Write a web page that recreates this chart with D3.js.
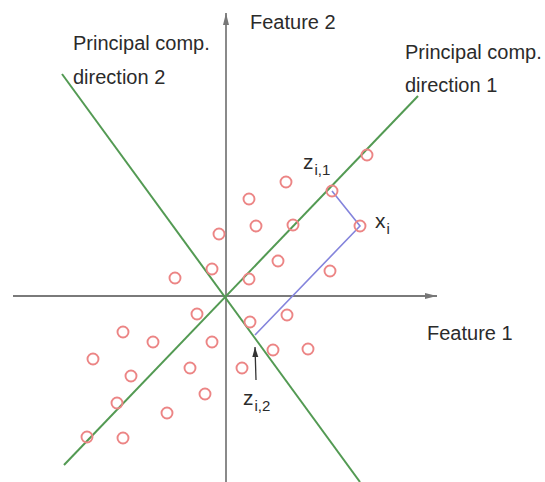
<!DOCTYPE html>
<html>
<head>
<meta charset="utf-8">
<script src="https://cdn.jsdelivr.net/npm/d3@7"></script>
<style>
  body { margin: 0; background: #fff; }
  svg { display: block; }
  text { font-family: "Liberation Sans", Arial, sans-serif; fill: #2b2b2b; }
</style>
</head>
<body>
<div id="chart"></div>
<script>
// samples, feature 1 / feature 2
const feat1 = [14.1, 6.0, 10.6, 2.3, 3.0, 6.7, 13.4, -0.7, 5.2, 10.4, -1.4, -5.1, 2.3, -2.9, 6.1,
               2.4, -10.3, -7.3, -1.4, 4.7, 8.2, -13.3, -3.6, 1.6, -9.5, -2.1, -10.9, -5.9, -13.9, -10.3];
const feat2 = [14.1, 11.4, 10.5, 9.7, 7.0, 7.1, 7.0, 6.2, 3.5, 2.5, 2.7, 1.8, 1.7, -1.8, -1.9,
               -2.6, -3.6, -4.6, -4.6, -5.4, -5.3, -6.3, -7.2, -7.2, -8.0, -9.8, -10.7, -11.7, -14.1, -14.2];

// extent of the two feature axes
const axisF1 = [-21.3, 21.1];
const axisF2 = [-18.6, 28.3];

// principal component directions (segment ends)
const pc1 = [[-16.2, -16.9], [19.2, 20.0]];
const pc2 = [[-16.4, 22.2], [13.4, -18.6]];

// sample x_i and its projections
const xi = [13.4, 7.0];
const zi1 = [10.6, 10.5];
const zi2 = [2.9, -3.9];
const zi2Arrow = [[3.0, -8.4], [2.9, -5.1]];

const width = 545, height = 482;

let x = d3.scaleLinear().domain([-10, 10]).range([126, 326]);
let y = d3.scaleLinear().domain([-10, 10]).range([396, 196]);

let svg = d3.select("#chart")
    .append("svg")
        .attr("width", width)
        .attr("height", height);

let defs = svg.append("defs");
defs.append("marker")
    .attr("id", "axhead")
    .attr("viewBox", "0 0 12 8")
    .attr("refX", 12).attr("refY", 4)
    .attr("markerUnits", "userSpaceOnUse")
    .attr("markerWidth", 12).attr("markerHeight", 8)
    .attr("orient", "auto")
  .append("path")
    .attr("d", "M0,1 L12,4 L0,7 Z")
    .attr("fill", "#777");
defs.append("marker")
    .attr("id", "smallhead")
    .attr("viewBox", "0 0 10 8")
    .attr("refX", 10).attr("refY", 4)
    .attr("markerUnits", "userSpaceOnUse")
    .attr("markerWidth", 10).attr("markerHeight", 8)
    .attr("orient", "auto")
  .append("path")
    .attr("d", "M0,1 L10,4 L0,7 Z")
    .attr("fill", "#333");

//feature axes
svg.append("line")
    .attr("x1", x(axisF1[0])).attr("y1", y(0))
    .attr("x2", x(axisF1[1])).attr("y2", y(0))
    .attr("stroke", "#7a7a7a").attr("stroke-width", 2)
    .attr("marker-end", "url(#axhead)");
svg.append("line")
    .attr("x1", x(0)).attr("y1", y(axisF2[0]))
    .attr("x2", x(0)).attr("y2", y(axisF2[1]))
    .attr("stroke", "#8a8a8a").attr("stroke-width", 2)
    .attr("marker-end", "url(#axhead)");

//principal directions
svg.selectAll("line.pc")
    .data([pc1, pc2])
    .enter()
    .append("line")
    .attr("class", "pc")
    .attr("x1", d => x(d[0][0])).attr("y1", d => y(d[0][1]))
    .attr("x2", d => x(d[1][0])).attr("y2", d => y(d[1][1]))
    .attr("stroke", "#539a53")
    .attr("stroke-width", 2);

//projections of x_i
svg.append("path")
    .attr("d", d3.line().x(d => x(d[0])).y(d => y(d[1]))([zi1, xi, zi2]))
    .attr("fill", "none")
    .attr("stroke", "#8484dc")
    .attr("stroke-width", 1.6);

//samples
svg.selectAll("circle")
    .data(feat1.map((f, i) => [f, feat2[i]]))
    .enter()
    .append("circle")
    .attr("cx", d => x(d[0]))
    .attr("cy", d => y(d[1]))
    .attr("r", 5.5)
    .attr("fill", "none")
    .attr("stroke", "#ec8585")
    .attr("stroke-width", 1.9);

//arrow pointing to z_i,2
svg.append("line")
    .attr("x1", x(zi2Arrow[0][0])).attr("y1", y(zi2Arrow[0][1]))
    .attr("x2", x(zi2Arrow[1][0])).attr("y2", y(zi2Arrow[1][1]))
    .attr("stroke", "#333").attr("stroke-width", 1.3)
    .attr("marker-end", "url(#smallhead)");

//labels
function label(tx, ty, str) {
    return svg.append("text")
        .attr("x", tx).attr("y", ty)
        .style("font-size", "20px")
        .text(str);
}
label(250, 29, "Feature 2");
label(427, 340, "Feature 1");
label(73, 50, "Principal comp.");
label(73, 84, "direction 2");
label(405, 59, "Principal comp.");
label(405, 92, "direction 1");

function subLabel(px, py, main, sub) {
    let t = svg.append("text").attr("x", px).attr("y", py).style("font-size", "21px");
    t.append("tspan").text(main);
    t.append("tspan").attr("dx", 1).attr("dy", 6).style("font-size", "15px").text(sub);
}
subLabel(x(zi1[0]) - 29, y(zi1[1]) - 22, "z", "i,1");
subLabel(x(xi[0]) + 15, y(xi[1]) + 2, "x", "i");
subLabel(x(zi2[0]) - 12, y(zi2[1]) + 70, "z", "i,2");
</script>
</body>
</html>
